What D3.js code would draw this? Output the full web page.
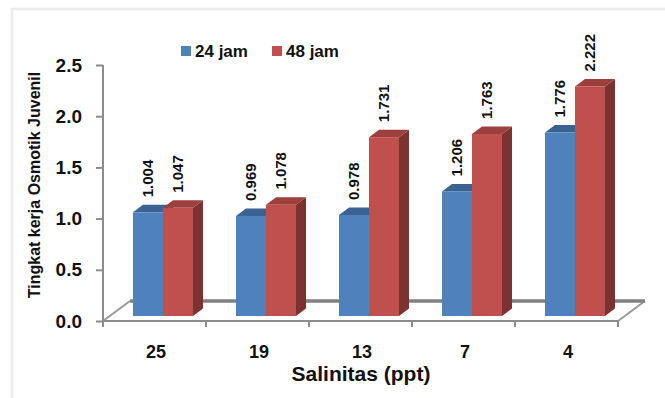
<!DOCTYPE html>
<html>
<head>
<meta charset="utf-8">
<script src="https://cdn.jsdelivr.net/npm/d3@7"></script>
<style>
  html, body { margin: 0; padding: 0; background: #fff; }
  svg { display: block; font-family: "Liberation Sans", Arial, sans-serif; }
</style>
</head>
<body>
<svg id="chart" width="665" height="398"></svg>
<script>
// Salinity levels (ppt) on the category axis
const categories = ["25", "19", "13", "7", "4"];
// Series names for the legend
const seriesNames = ["24 jam", "48 jam"];
// Osmotic work level after 24 h and 48 h
const values24 = [1.004, 0.969, 0.978, 1.206, 1.776];
const values48 = [1.047, 1.078, 1.731, 1.763, 2.222];
// Value axis ticks
const yTicks = [0, 0.5, 1.0, 1.5, 2.0, 2.5];

const colors = {
  "24 jam": { front: "#4f81bd", top: "#3a6394", side: "#2f507a" },
  "48 jam": { front: "#c0504d", top: "#9d3f3d", side: "#7c3231" }
};

const svg = d3.select("#chart");

// light frame around the chart area
svg.append("rect")
  .attr("x", 12).attr("y", 9)
  .attr("width", 700).attr("height", 420)
  .attr("fill", "none")
  .attr("stroke", "#ebebeb")
  .attr("stroke-width", 2.5);

const plot = { left: 103, right: 618, top: 65, bottom: 321 };
const depth = { dx: 27, dy: -20 };       // floor depth offset
const barShift = { dx: 8.5, dy: -5 };   // bars sit mid-depth on the floor
const barDepth = { dx: 10, dy: -7.5 };  // depth of each 3-D bar

const x = d3.scaleBand().domain(categories).range([plot.left, plot.right]);
const inner = d3.scaleBand().domain(seriesNames).range([-30, 30]);
const y = d3.scaleLinear().domain([0, 2.5]).range([plot.bottom, plot.top]);
const yBar = d3.scaleLinear().domain([0, 2.5])
  .range([plot.bottom + barShift.dy, plot.bottom + barShift.dy - 2.5 * 103.3]);

// floor: left and right depth edges, and the thick back edge
const floorG = svg.append("g").attr("fill", "none");
floorG.append("line")
  .attr("x1", plot.left).attr("y1", plot.bottom)
  .attr("x2", plot.left + depth.dx).attr("y2", plot.bottom + depth.dy)
  .attr("stroke", "#9a9a9a").attr("stroke-width", 2);
floorG.append("line")
  .attr("x1", plot.right).attr("y1", plot.bottom)
  .attr("x2", plot.right + depth.dx).attr("y2", plot.bottom + depth.dy)
  .attr("stroke", "#9a9a9a").attr("stroke-width", 2);
floorG.append("line")
  .attr("x1", plot.left + depth.dx).attr("y1", plot.bottom + depth.dy)
  .attr("x2", plot.right + depth.dx).attr("y2", plot.bottom + depth.dy)
  .attr("stroke", "#808080").attr("stroke-width", 3.5);

// bars
const rows = categories.map((c, i) => ({ cat: c, v: { "24 jam": values24[i], "48 jam": values48[i] } }));
const barsG = svg.append("g");
const labelsG = svg.append("g").attr("class", "value-labels");
rows.forEach(r => {
  seriesNames.forEach(s => {
    const v = r.v[s];
    const cx = x(r.cat) + x.bandwidth() / 2 + barShift.dx;
    const x0 = cx + inner(s);
    const x1 = x0 + inner.bandwidth();
    const yt = yBar(v);
    const yb = yBar(0);
    const c = colors[s];
    const g = barsG.append("g");
    // side face
    g.append("polygon")
      .attr("points", [[x1, yt], [x1 + barDepth.dx, yt + barDepth.dy],
        [x1 + barDepth.dx, yb + barDepth.dy], [x1, yb]].join(" "))
      .attr("fill", c.side);
    // top face
    g.append("polygon")
      .attr("points", [[x0, yt], [x1, yt], [x1 + barDepth.dx, yt + barDepth.dy],
        [x0 + barDepth.dx, yt + barDepth.dy]].join(" "))
      .attr("fill", c.top);
    // front face
    g.append("rect")
      .attr("x", x0).attr("y", yt)
      .attr("width", x1 - x0).attr("height", yb - yt)
      .attr("fill", c.front);
    // value label, written upward above the bar
    const lx = Math.round(((x0 + x1) / 2 + 5.4) * 10) / 10;
    const ly = Math.round((yt - 15) * 10) / 10;
    labelsG.append("text")
      .attr("x", lx).attr("y", ly)
      .attr("transform", "rotate(-90 " + lx + " " + ly + ")")
      .attr("text-anchor", "start")
      .attr("font-size", 15)
      .attr("font-weight", "bold")
      .attr("fill", "#111")
      .text(v.toFixed(3));
  });
});

// value axis
const yAxis = svg.append("g")
  .attr("transform", `translate(${plot.left},0)`)
  .call(d3.axisLeft(y).tickValues(yTicks).tickFormat(d3.format(".1f"))
    .tickSize(7).tickSizeOuter(0).tickPadding(14));
yAxis.select(".domain").remove();
yAxis.append("line")
  .attr("x1", 0).attr("x2", 0)
  .attr("y1", plot.top).attr("y2", plot.bottom + 6)
  .attr("stroke", "#8c8c8c").attr("stroke-width", 2);
yAxis.selectAll(".tick line").attr("stroke", "#8c8c8c").attr("stroke-width", 2);
yAxis.selectAll(".tick text")
  .attr("font-size", 19).attr("font-weight", "bold")
  .attr("font-family", "'Liberation Sans', Arial, sans-serif")
  .attr("fill", "#111");

// category axis: front floor edge with boundary ticks
const xAxis = svg.append("g").attr("transform", `translate(0,${plot.bottom})`);
xAxis.append("line")
  .attr("x1", plot.left).attr("x2", plot.right)
  .attr("y1", 0).attr("y2", 0)
  .attr("stroke", "#8c8c8c").attr("stroke-width", 2);
const bounds = categories.map(c => x(c)).concat([x.range()[1]]);
xAxis.selectAll(".bound").data(bounds).enter().append("line")
  .attr("x1", d => d).attr("x2", d => d)
  .attr("y1", 0).attr("y2", 6)
  .attr("stroke", "#8c8c8c").attr("stroke-width", 2);
const xLabels = svg.append("g")
  .attr("transform", `translate(1.5,${plot.bottom + 24.5})`)
  .call(d3.axisBottom(x).tickSize(0).tickPadding(0));
xLabels.select(".domain").remove();
xLabels.selectAll(".tick text")
  .attr("font-size", 18).attr("font-weight", "bold")
  .attr("font-family", "'Liberation Sans', Arial, sans-serif")
  .attr("fill", "#111");

// axis titles
svg.append("text")
  .attr("x", 361).attr("y", 381)
  .attr("text-anchor", "middle")
  .attr("font-size", 21).attr("font-weight", "bold")
  .attr("fill", "#111")
  .text("Salinitas (ppt)");
svg.append("text")
  .attr("transform", "translate(39.5,185) rotate(-90)")
  .attr("text-anchor", "middle")
  .attr("font-size", 16).attr("font-weight", "bold")
  .attr("fill", "#111")
  .text("Tingkat kerja Osmotik Juvenil");

// legend
const legend = svg.append("g");
const legendX = [181, 272];
seriesNames.forEach((s, i) => {
  legend.append("rect")
    .attr("x", legendX[i]).attr("y", 46)
    .attr("width", 10).attr("height", 10)
    .attr("fill", colors[s].front);
  legend.append("text")
    .attr("x", legendX[i] + 14).attr("y", 57)
    .attr("font-size", 17).attr("font-weight", "bold")
    .attr("fill", "#111")
    .text(s);
});
</script>
</body>
</html>
